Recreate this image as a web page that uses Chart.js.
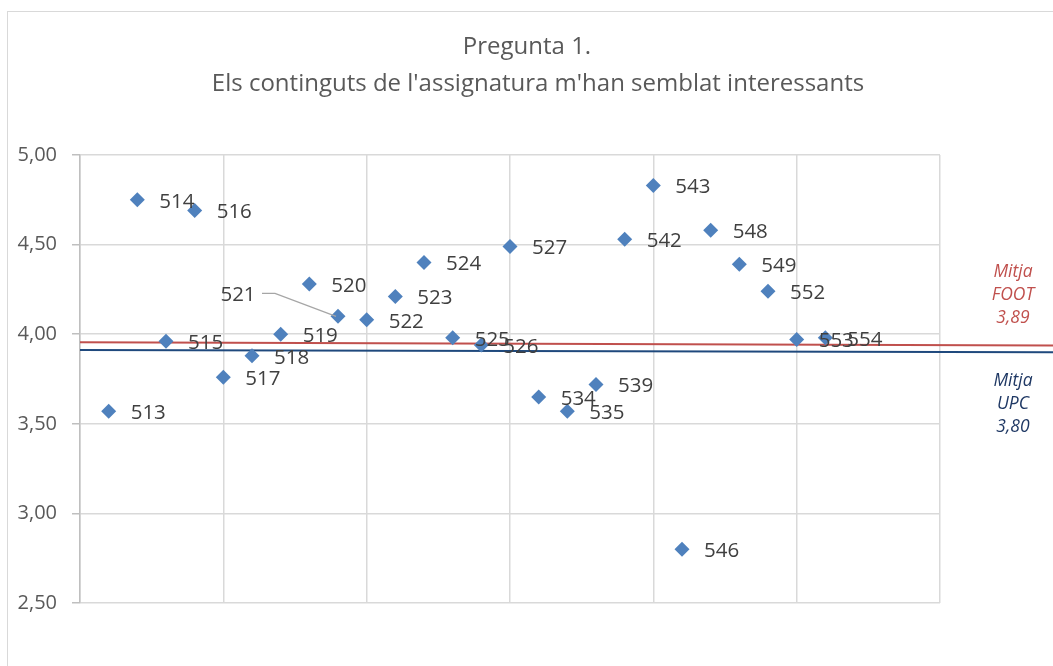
<!DOCTYPE html>
<html>
<head>
<meta charset="utf-8">
<script src="https://cdn.jsdelivr.net/npm/chart.js@4"></script>
<style>
  html, body { margin: 0; padding: 0; background: #fff; overflow: hidden; }
  #wrap { position: relative; width: 1053px; height: 666px; }
  #frame { position: absolute; left: 7px; top: 11px; width: 1100px; height: 700px; border: 1px solid #d9d9d9; pointer-events: none; }
</style>
</head>
<body>
<div id="wrap">
  <canvas id="graph" width="1053" height="666"></canvas>
  <div id="frame"></div>
</div>
<script>
var ctx = document.getElementById("graph").getContext("2d")

// one point per group, x = position along the axis
var groups = ["513", "514", "515", "516", "517", "518", "519", "520", "521", "522", "523", "524", "525",
              "526", "527", "534", "535", "539", "542", "543", "546", "548", "549", "552", "553", "554"];
var positions = [1, 2, 3, 4, 5, 6, 7, 8, 9, 10, 11, 12, 13, 14, 15, 16, 17, 18, 19, 20, 21, 22, 23, 24, 25, 26];
var scores = [3.57, 4.75, 3.96, 4.69, 3.76, 3.88, 4.00, 4.28, 4.10, 4.08, 4.21, 4.40, 3.98,
              3.94, 4.49, 3.65, 3.57, 3.72, 4.53, 4.83, 2.80, 4.58, 4.39, 4.24, 3.97, 3.98];

// the two average lines (as drawn, slightly sloped)
var lineX = [0, 34];
var footLine = [3.955, 3.937];
var upcLine = [3.912, 3.899];
var footLabel = ["Mitja", "FOOT", "3,89"];
var upcLabel = ["Mitja", "UPC", "3,80"];

var titleLines = ["Pregunta 1.", "Els continguts de l'assignatura m'han semblat interessants"];
var yTicks = [2.5, 3, 3.5, 4, 4.5, 5];

var FONT = "'Open Sans', sans-serif";

var extras = {
    id: "extras",
    afterDraw(chart) {
        let c = chart.ctx;
        let area = chart.chartArea;
        c.save();

        // title
        c.fillStyle = "#595959";
        c.font = "24px " + FONT;
        c.textAlign = "center";
        c.textBaseline = "middle";
        c.fillText(titleLines[0], 527, 47);
        c.fillText(titleLines[1], 538, 84);

        // point labels
        let pts = chart.getDatasetMeta(0).data;
        c.font = "20.5px " + FONT;
        c.fillStyle = "#404040";
        c.textAlign = "left";
        pts.forEach((p, i) => {
            if (groups[i] == "521") {
                c.textAlign = "center";
                c.fillText(groups[i], p.x - 100, p.y - 21);
                c.textAlign = "left";
                c.strokeStyle = "#a6a6a6";
                c.lineWidth = 1.3;
                c.beginPath();
                c.moveTo(p.x - 76, p.y - 23);
                c.lineTo(p.x - 63, p.y - 23);
                c.lineTo(p.x - 2, p.y);
                c.stroke();
            } else {
                c.fillText(groups[i], p.x + 22, p.y + 2);
            }
        });

        // average labels on the right
        c.font = "italic 17.5px " + FONT;
        c.textAlign = "center";
        c.fillStyle = "#c0504d";
        footLabel.forEach((t, i) => c.fillText(t, area.right + 73, 272 + i * 23));
        c.fillStyle = "#1f3864";
        upcLabel.forEach((t, i) => c.fillText(t, area.right + 73, 381 + i * 23));

        c.restore();
    }
};

var chart = new Chart(ctx, {
    type: "scatter",
    data: {
        datasets: [
            {
                label: "Grups",
                data: positions.map((x, i) => ({ x: x, y: scores[i] })),
                pointStyle: "rectRot",
                pointRadius: 7.5,
                pointBackgroundColor: "#4f81bd",
                pointBorderWidth: 0,
                order: 0
            },
            {
                type: "line",
                label: "Mitja FOOT",
                data: lineX.map((x, i) => ({ x: x, y: footLine[i] })),
                borderColor: "#c0504d",
                borderWidth: 2,
                pointRadius: 0,
                clip: false,
                order: 2
            },
            {
                type: "line",
                label: "Mitja UPC",
                data: lineX.map((x, i) => ({ x: x, y: upcLine[i] })),
                borderColor: "#1f497d",
                borderWidth: 2,
                pointRadius: 0,
                clip: false,
                order: 1
            }
        ]
    },
    options: {
        responsive: false,
        animation: false,
        layout: { padding: { left: 0, right: 113, top: 155, bottom: 0 } },
        plugins: {
            legend: { display: false },
            tooltip: { enabled: false },
            title: { display: false }
        },
        scales: {
            x: {
                type: "linear",
                min: 0,
                max: 30,
                ticks: { display: false, stepSize: 5 },
                grid: { color: "#d9d9d9", lineWidth: 1.5, drawTicks: false },
                border: { display: false },
                afterFit: s => { s.height = 63; }
            },
            y: {
                min: 2.5,
                max: 5,
                afterBuildTicks: s => { s.ticks = yTicks.map(v => ({ value: v })); },
                ticks: {
                    padding: 15,
                    color: "#595959",
                    font: { family: FONT, size: 20 },
                    callback: v => v.toFixed(2).replace(".", ",")
                },
                grid: { color: "#d9d9d9", lineWidth: 1.5, tickLength: 8, tickColor: "#bfbfbf" },
                border: { color: "#bfbfbf", width: 1.5 },
                afterFit: s => { s.width = 80; }
            }
        }
    },
    plugins: [extras]
});
</script>
</body>
</html>
